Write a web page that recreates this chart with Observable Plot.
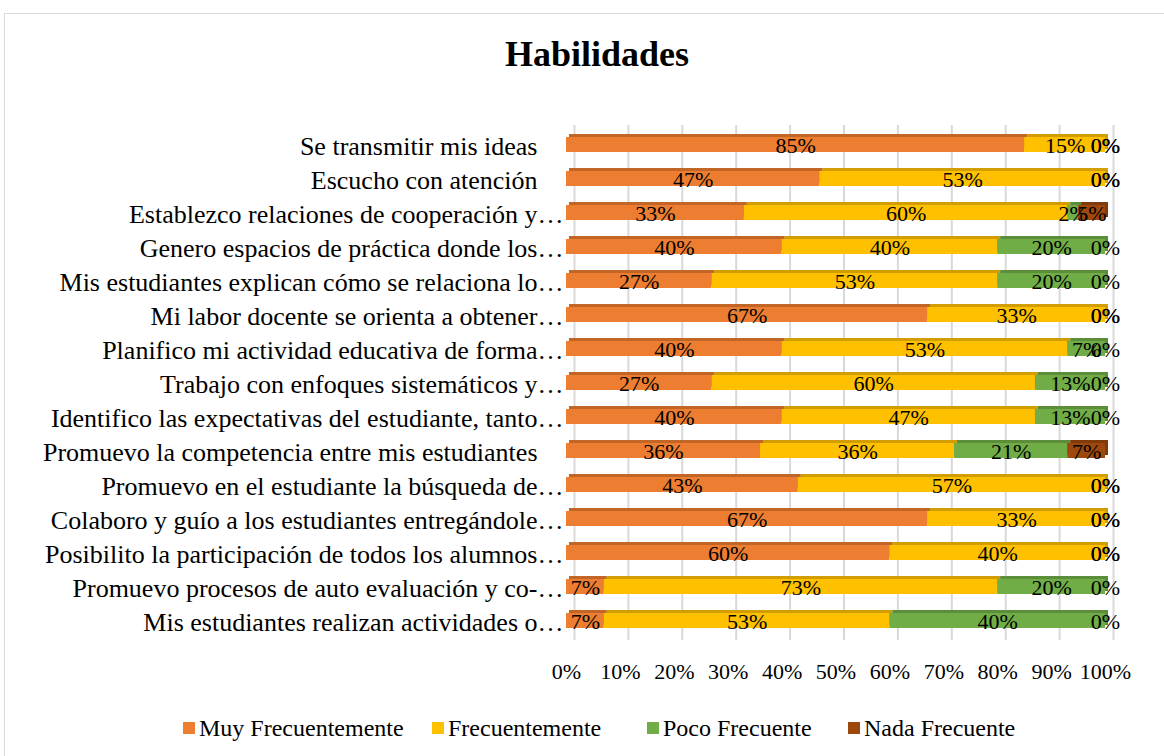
<!DOCTYPE html>
<html>
<head>
<meta charset="utf-8">
<script src="https://cdn.jsdelivr.net/npm/d3@7"></script>
<script src="https://cdn.jsdelivr.net/npm/@observablehq/plot@0.6"></script>
<style>
  html, body { margin: 0; padding: 0; background: #fff; overflow: hidden; }
  #wrap { position: relative; width: 1164px; height: 756px; font-family: "Liberation Serif", "Times New Roman", serif; color: #000; }
  #frame { position: absolute; left: 4px; top: 13px; width: 1220px; height: 800px; border: 1px solid #d9d9d9; box-sizing: border-box; }
  #title { position: absolute; left: 0; width: 1194px; top: 36px; text-align: center; font-size: 36px; line-height: 36px; font-weight: bold; }
  #chart { position: absolute; left: 0; top: 0; }
  #legend { position: absolute; top: 713px; left: 0; width: 1164px; height: 30px; font-size: 24px; line-height: 30px; }
  .li { position: absolute; display: flex; align-items: center; white-space: nowrap; }
  .sw { width: 12px; height: 12px; margin-right: 4px; }
  svg text { white-space: pre; }
</style>
</head>
<body>
<div id="wrap">
  <div id="frame"></div>
  <div id="title">Habilidades</div>
  <div id="chart"></div>
  <div id="legend"></div>
</div>
<script>
// ---- data ----
const categories = [
  "Se transmitir mis ideas",
  "Escucho con atención",
  "Establezco relaciones de cooperación y…",
  "Genero espacios de práctica donde los…",
  "Mis estudiantes explican cómo se relaciona lo…",
  "Mi labor docente se orienta a obtener…",
  "Planifico mi actividad educativa de forma…",
  "Trabajo con enfoques sistemáticos y…",
  "Identifico las expectativas del estudiante, tanto…",
  "Promuevo la competencia entre mis estudiantes",
  "Promuevo en el estudiante la búsqueda de…",
  "Colaboro y guío a los estudiantes entregándole…",
  "Posibilito la participación de todos los alumnos…",
  "Promuevo procesos de auto evaluación y co-…",
  "Mis estudiantes realizan actividades o…"
];
const seriesNames = ["Muy Frecuentemente", "Frecuentemente", "Poco Frecuente", "Nada Frecuente"];
const muyFrecuentemente = [85, 47, 33, 40, 27, 67, 40, 27, 40, 36, 43, 67, 60, 7, 7];
const frecuentemente    = [15, 53, 60, 40, 53, 33, 53, 60, 47, 36, 57, 33, 40, 73, 53];
const pocoFrecuente     = [0, 0, 2, 20, 20, 0, 7, 13, 13, 21, 0, 0, 0, 20, 40];
const nadaFrecuente     = [0, 0, 5, 0, 0, 0, 0, 0, 0, 7, 0, 0, 0, 0, 0];
const xTicks = [0, 10, 20, 30, 40, 50, 60, 70, 80, 90, 100];
const seriesColors = ["#ED7D31", "#FFC000", "#70AD47", "#9E480E"];

// ---- table ----
const seriesValues = [muyFrecuentemente, frecuentemente, pocoFrecuente, nadaFrecuente];
const rows = [];
categories.forEach((c, i) => {
  seriesNames.forEach((s, j) => rows.push({cat: c, series: s, value: seriesValues[j][i]}));
});

const labelFmt = d => d.endsWith("…") ? d : d + "\u00a0\u00a0\u00a0\u00a0";

const plot = Plot.plot({
  width: 1164,
  height: 700,
  marginLeft: 566,
  marginRight: 59,
  marginTop: 125,
  marginBottom: 60,
  style: {fontFamily: "'Liberation Serif', 'Times New Roman', serif", fontSize: "22px", color: "#000", background: "transparent", overflow: "visible"},
  x: {domain: [0, 100]},
  y: {domain: categories, paddingInner: 0.563, paddingOuter: 0.28},
  color: {domain: seriesNames, range: seriesColors},
  marks: [
    Plot.gridX(xTicks, {stroke: "#d9d9d9", strokeOpacity: 1, strokeWidth: 2, dx: 8}),
    // 3D depth faces
    Plot.barX(rows, Plot.stackX({x: "value", y: "cat", z: "series", fill: "series", dx: 3, dy: -3})),
    Plot.barX(rows, Plot.stackX({x: "value", y: "cat", z: "series", fill: "#000", fillOpacity: 0.18, dx: 3, dy: -3})),
    // front faces
    Plot.barX(rows, Plot.stackX({x: "value", y: "cat", z: "series", fill: "series"})),
    Plot.text(rows, Plot.stackX({x: "value", y: "cat", z: "series", text: d => d.value + "%", fontSize: 22, dy: 1, fill: "#000"})),
    Plot.axisY({tickSize: 0, tickPadding: 3, fontSize: 26, dy: 2, label: null, tickFormat: labelFmt}),
    Plot.axisX(xTicks, {tickSize: 0, tickPadding: 23, fontSize: 22, label: null, tickFormat: d => d + "%"})
  ]
});
document.getElementById("chart").appendChild(plot);

// ---- legend ----
const legendLeft = [183, 432, 647, 848];
const legend = document.getElementById("legend");
seriesNames.forEach((s, i) => {
  const item = document.createElement("div");
  item.className = "li";
  item.style.left = legendLeft[i] + "px";
  const sw = document.createElement("span");
  sw.className = "sw";
  sw.style.background = seriesColors[i];
  const tx = document.createElement("span");
  tx.textContent = s;
  item.appendChild(sw);
  item.appendChild(tx);
  legend.appendChild(item);
});
</script>
</body>
</html>
